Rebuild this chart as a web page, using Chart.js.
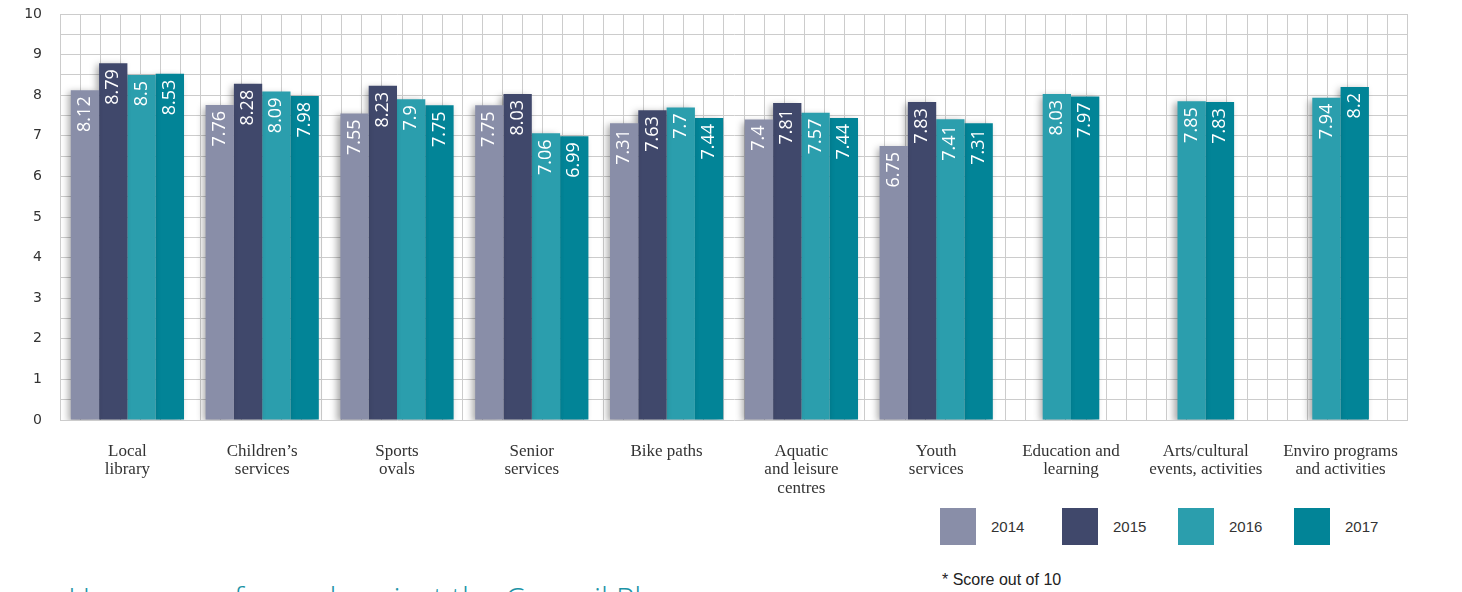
<!DOCTYPE html>
<html>
<head>
<meta charset="utf-8">
<script src="https://cdn.jsdelivr.net/npm/chart.js@4/dist/chart.umd.min.js"></script>
<style>
  html, body { margin: 0; padding: 0; background: #fff; }
  body { width: 1462px; height: 592px; overflow: hidden; position: relative; }
  #wrap { position: absolute; left: 0; top: 0; width: 1462px; height: 500px; }
  .legend-item { position: absolute; top: 508px; height: 37px; display: flex; align-items: center;
    font-family: "Liberation Sans", Arial, sans-serif; font-size: 15px; color: #333; }
  .legend-item span.sw { display: inline-block; width: 36px; height: 37px; margin-right: 15px; }
  #note { position: absolute; left: 942px; top: 571px; font-family: "Liberation Sans", Arial, sans-serif;
    font-size: 16px; color: #222; }
  #heading { position: absolute; left: 68px; top: 583px; font-family: "Open Sans", sans-serif;
    font-weight: 300; font-size: 31px; line-height: 31px; color: #1c93a6; white-space: nowrap; }
</style>
</head>
<body>
<div id="wrap"><canvas id="c"></canvas></div>
<div id="legend"></div>
<div id="note">* Score out of 10</div>
<div id="heading">How we performed against the Council Plan</div>
<script>
// Service satisfaction scores by year
const categories = [
  ['Local', 'library'],
  ["Children\u2019s", 'services'],
  ['Sports', 'ovals'],
  ['Senior', 'services'],
  ['Bike paths'],
  ['Aquatic', 'and leisure', 'centres'],
  ['Youth', 'services'],
  ['Education and', 'learning'],
  ['Arts/cultural', 'events, activities'],
  ['Enviro programs', 'and activities']
];
const years = ['2014', '2015', '2016', '2017'];
const scores2014 = [8.12, 7.76, 7.55, 7.75, 7.31, 7.4, 6.75, null, null, null];
const scores2015 = [8.79, 8.28, 8.23, 8.03, 7.63, 7.81, 7.83, null, null, null];
const scores2016 = [8.5, 8.09, 7.9, 7.06, 7.7, 7.57, 7.41, 8.03, 7.85, 7.94];
const scores2017 = [8.53, 7.98, 7.75, 6.99, 7.44, 7.44, 7.31, 7.97, 7.83, 8.2];
const yTicks = [0, 1, 2, 3, 4, 5, 6, 7, 8, 9, 10];

const palette = ['#898ea8', '#40486b', '#2b9ead', '#028497'];
const seriesValues = [scores2014, scores2015, scores2016, scores2017];

// Empty slot holders: where only two years were surveyed they keep the
// two bars the same width as elsewhere and centred on their category.
const slotHolder = scores2014.map(v => (v === null ? 0 : null));

// Soft drop shadow behind the bars
const barShadow = {
  id: 'barShadow',
  beforeDatasetsDraw(chart) {
    const ctx = chart.ctx;
    ctx.save();
    ctx.shadowColor = 'rgba(0,0,0,0.35)';
    ctx.shadowBlur = 7;
    ctx.shadowOffsetX = -3;
    ctx.shadowOffsetY = 2;
  },
  afterDatasetsDraw(chart) {
    chart.ctx.restore();
  }
};

// Value written vertically inside the top of each bar
const barValues = {
  id: 'barValues',
  afterDatasetsDraw(chart) {
    const ctx = chart.ctx;
    ctx.save();
    ctx.fillStyle = '#ffffff';
    ctx.font = '18px "Open Sans", sans-serif';
    ctx.textAlign = 'right';
    ctx.textBaseline = 'middle';
    chart.data.datasets.forEach((ds, i) => {
      if (!ds.label) return;
      const meta = chart.getDatasetMeta(i);
      meta.data.forEach((bar, j) => {
        const v = ds.data[j];
        if (v === null || v === undefined) return;
        ctx.save();
        ctx.translate(bar.x, bar.y + 6);
        ctx.rotate(-Math.PI / 2);
        ctx.fillText(String(v), 0, 0);
        ctx.restore();
      });
    });
    ctx.restore();
  }
};

const common = { borderWidth: 0, skipNull: true, barPercentage: 1.0, categoryPercentage: 0.84 };
const datasets = [{ label: '', data: slotHolder, backgroundColor: 'rgba(0,0,0,0)', ...common }]
  .concat(years.map((y, i) => ({ label: y, data: seriesValues[i], backgroundColor: palette[i], ...common })))
  .concat([{ label: '', data: slotHolder, backgroundColor: 'rgba(0,0,0,0)', ...common }]);

new Chart(document.getElementById('c'), {
  type: 'bar',
  data: { labels: categories, datasets },
  options: {
    responsive: true,
    maintainAspectRatio: false,
    animation: false,
    layout: { padding: { top: 14, right: 54, left: 0, bottom: 0 } },
    plugins: { legend: { display: false }, tooltip: { enabled: false } },
    scales: {
      x: {
        grid: { display: false },
        border: { display: false },
        ticks: {
          padding: 15,
          maxRotation: 0,
          autoSkip: false,
          color: '#333',
          font: { family: '"Liberation Serif", serif', size: 17, lineHeight: 1.06 }
        },
        afterFit(scale) { scale.height = 80; }
      },
      xg: {
        type: 'linear',
        position: 'top',
        min: 0,
        max: 66,
        grid: { color: '#cccccc', lineWidth: 1, drawTicks: false },
        border: { display: false },
        ticks: { display: false, stepSize: 1, maxTicksLimit: 200 },
        afterFit(scale) { scale.height = 0; }
      },
      y: {
        min: yTicks[0],
        max: yTicks[yTicks.length - 1],
        grid: { color: '#cccccc', lineWidth: 1, drawTicks: false },
        border: { color: '#cccccc' },
        ticks: {
          stepSize: 0.5,
          padding: 18,
          color: '#333',
          font: { family: '"DejaVu Sans", sans-serif', size: 14 },
          callback: v => (yTicks.includes(v) ? String(v) : '')
        },
        afterFit(scale) {
          scale.width = 60;
          scale.paddingTop = 0;
        }
      }
    }
  },
  plugins: [barShadow, barValues]
});

// Legend entries
const legendLeft = [940, 1062, 1178, 1294];
const legend = document.getElementById('legend');
years.forEach((y, i) => {
  const item = document.createElement('div');
  item.className = 'legend-item';
  item.style.left = legendLeft[i] + 'px';
  const sw = document.createElement('span');
  sw.className = 'sw';
  sw.style.background = palette[i];
  item.appendChild(sw);
  item.appendChild(document.createTextNode(y));
  legend.appendChild(item);
});
</script>
</body>
</html>
